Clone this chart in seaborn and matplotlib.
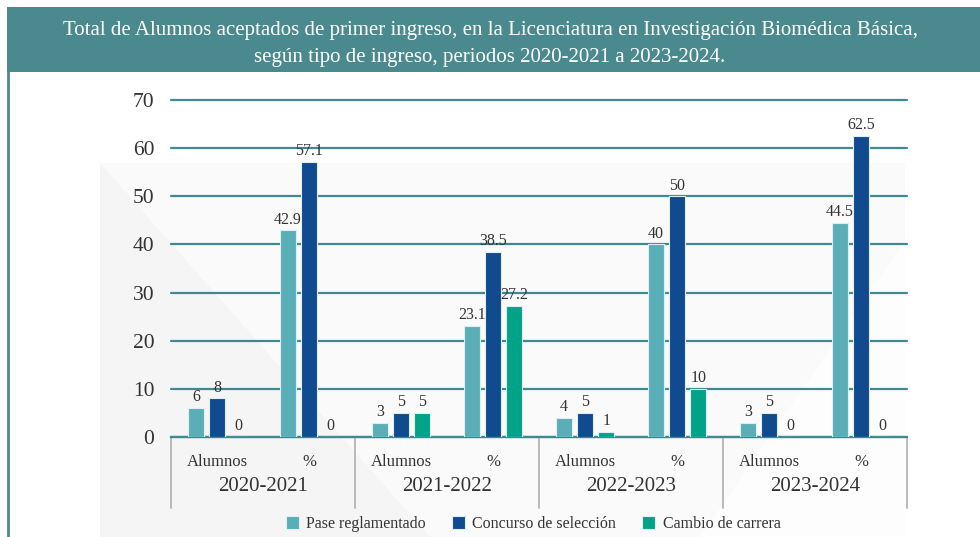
import pandas as pd
import seaborn as sns
import matplotlib.pyplot as plt
from matplotlib.patches import Rectangle, Polygon
from matplotlib.lines import Line2D
from matplotlib.transforms import blended_transform_factory

# data
periodos = ["2020-2021", "2021-2022", "2022-2023", "2023-2024"]
subgrupos = ["Alumnos", "%"]
tipos = ["Pase reglamentado", "Concurso de selección", "Cambio de carrera"]

pase_alumnos = [6, 3, 4, 3]
concurso_alumnos = [8, 5, 5, 5]
cambio_alumnos = [0, 5, 1, 0]

pase_pct = [42.9, 23.1, 40, 44.5]
concurso_pct = [57.1, 38.5, 50, 62.5]
cambio_pct = [0, 27.2, 10, 0]

colores = ["#5aafb6", "#0f4b8e", "#00a388"]
teal = "#4a8a8e"
texto = "#333333"

# long table for seaborn
rows = []
for i, p in enumerate(periodos):
    for tipo, a, pc in zip(tipos,
                           [pase_alumnos[i], concurso_alumnos[i], cambio_alumnos[i]],
                           [pase_pct[i], concurso_pct[i], cambio_pct[i]]):
        rows.append({"cat": p + " Alumnos", "tipo": tipo, "valor": a})
        rows.append({"cat": p + " %", "tipo": tipo, "valor": pc})
df = pd.DataFrame(rows)
orden = [p + " " + s for p in periodos for s in subgrupos]

sns.set_theme(style="white")
plt.rcParams["font.family"] = ["Liberation Serif", "DejaVu Serif"]

fig = plt.figure(figsize=(9.8, 5.37), dpi=100)
W, H = 980, 537

# faint background decoration
fig.patches.append(Rectangle((100 / W, 0), 805 / W, 1 - 163 / H, transform=fig.transFigure,
                             facecolor="#fafafa", edgecolor="none", zorder=-3))
fig.patches.append(Polygon([(100 / W, 1 - 163 / H), (430 / W, 0), (100 / W, 0)], closed=True,
                           transform=fig.transFigure, facecolor="#f5f5f5", edgecolor="none", zorder=-2))
fig.patches.append(Polygon([(905 / W, 1 - 240 / H), (905 / W, 0), (700 / W, 0)], closed=True,
                           transform=fig.transFigure, facecolor="#fdfdfd", edgecolor="none", zorder=-2))
# title banner and left border
fig.patches.append(Rectangle((7 / W, 1 - 72 / H), 1, 65 / H, transform=fig.transFigure,
                             facecolor=teal, edgecolor="none", zorder=-1))
fig.lines.append(Line2D([7.5 / W, 7.5 / W], [0, 1 - 72 / H], transform=fig.transFigure,
                        color=teal, lw=2))
fig.text(0.5, 1 - 44 / H,
         "Total de Alumnos aceptados de primer ingreso, en la Licenciatura en Investigación Biomédica Básica,\n"
         "según tipo de ingreso, periodos 2020-2021 a 2023-2024.",
         ha="center", va="center", color="white", fontsize=15, linespacing=1.55)

ax = fig.add_axes([171 / W, 1 - 437 / H, 736 / W, 337 / H])
ax.set_facecolor("none")

sns.barplot(data=df, x="cat", y="valor", hue="tipo", order=orden, hue_order=tipos,
            palette=colores, saturation=1, width=0.69, gap=0.23, edgecolor="#dfeeee",
            linewidth=0.8, ax=ax, zorder=3)

for cont in ax.containers:
    ax.bar_label(cont, labels=[f"{v:g}" for v in cont.datavalues], padding=2,
                 fontsize=11.5, color=texto)

ax.set_ylim(0, 70)
ax.set_xlim(-0.5, 7.5)
ax.set_yticks(range(0, 71, 10))
ax.yaxis.grid(True, color="#3f8a92", lw=1.6, zorder=0)
ax.xaxis.grid(False)
for s in ["top", "right", "left"]:
    ax.spines[s].set_visible(False)
ax.spines["bottom"].set_color("#3f8a92")
ax.spines["bottom"].set_linewidth(1.6)
ax.set_xticks(range(len(orden)))
ax.set_xticklabels(subgrupos * len(periodos))
ax.tick_params(axis="x", length=0, pad=12, labelsize=12, labelcolor=texto)
ax.tick_params(axis="y", length=0, pad=12, labelsize=15.5, labelcolor=texto)
ax.set_xlabel("")
ax.set_ylabel("")
for gl in ax.get_ygridlines():
    gl.set_clip_on(False)

# period labels and separators
tr = blended_transform_factory(ax.transData, ax.transAxes)
for i, p in enumerate(periodos):
    ax.text(2 * i + 0.5, -0.148, p, transform=tr, ha="center", va="center",
            fontsize=15, color=texto)
for xs in [-0.5, 1.5, 3.5, 5.5, 7.5]:
    ax.add_line(Line2D([xs, xs], [0, -0.21], transform=tr, color="#b5b5b5",
                       lw=1.3, clip_on=False))

handles, labels = ax.get_legend_handles_labels()
ax.get_legend().remove()
fig.legend(handles, labels, loc="center", bbox_to_anchor=(0.544, 1 - 524 / H), ncol=3,
           frameon=False, fontsize=11.5, handlelength=0.85, handleheight=0.85,
           handletextpad=0.45, columnspacing=1.6, labelcolor=texto)

fig.savefig("out.png", dpi=100)
